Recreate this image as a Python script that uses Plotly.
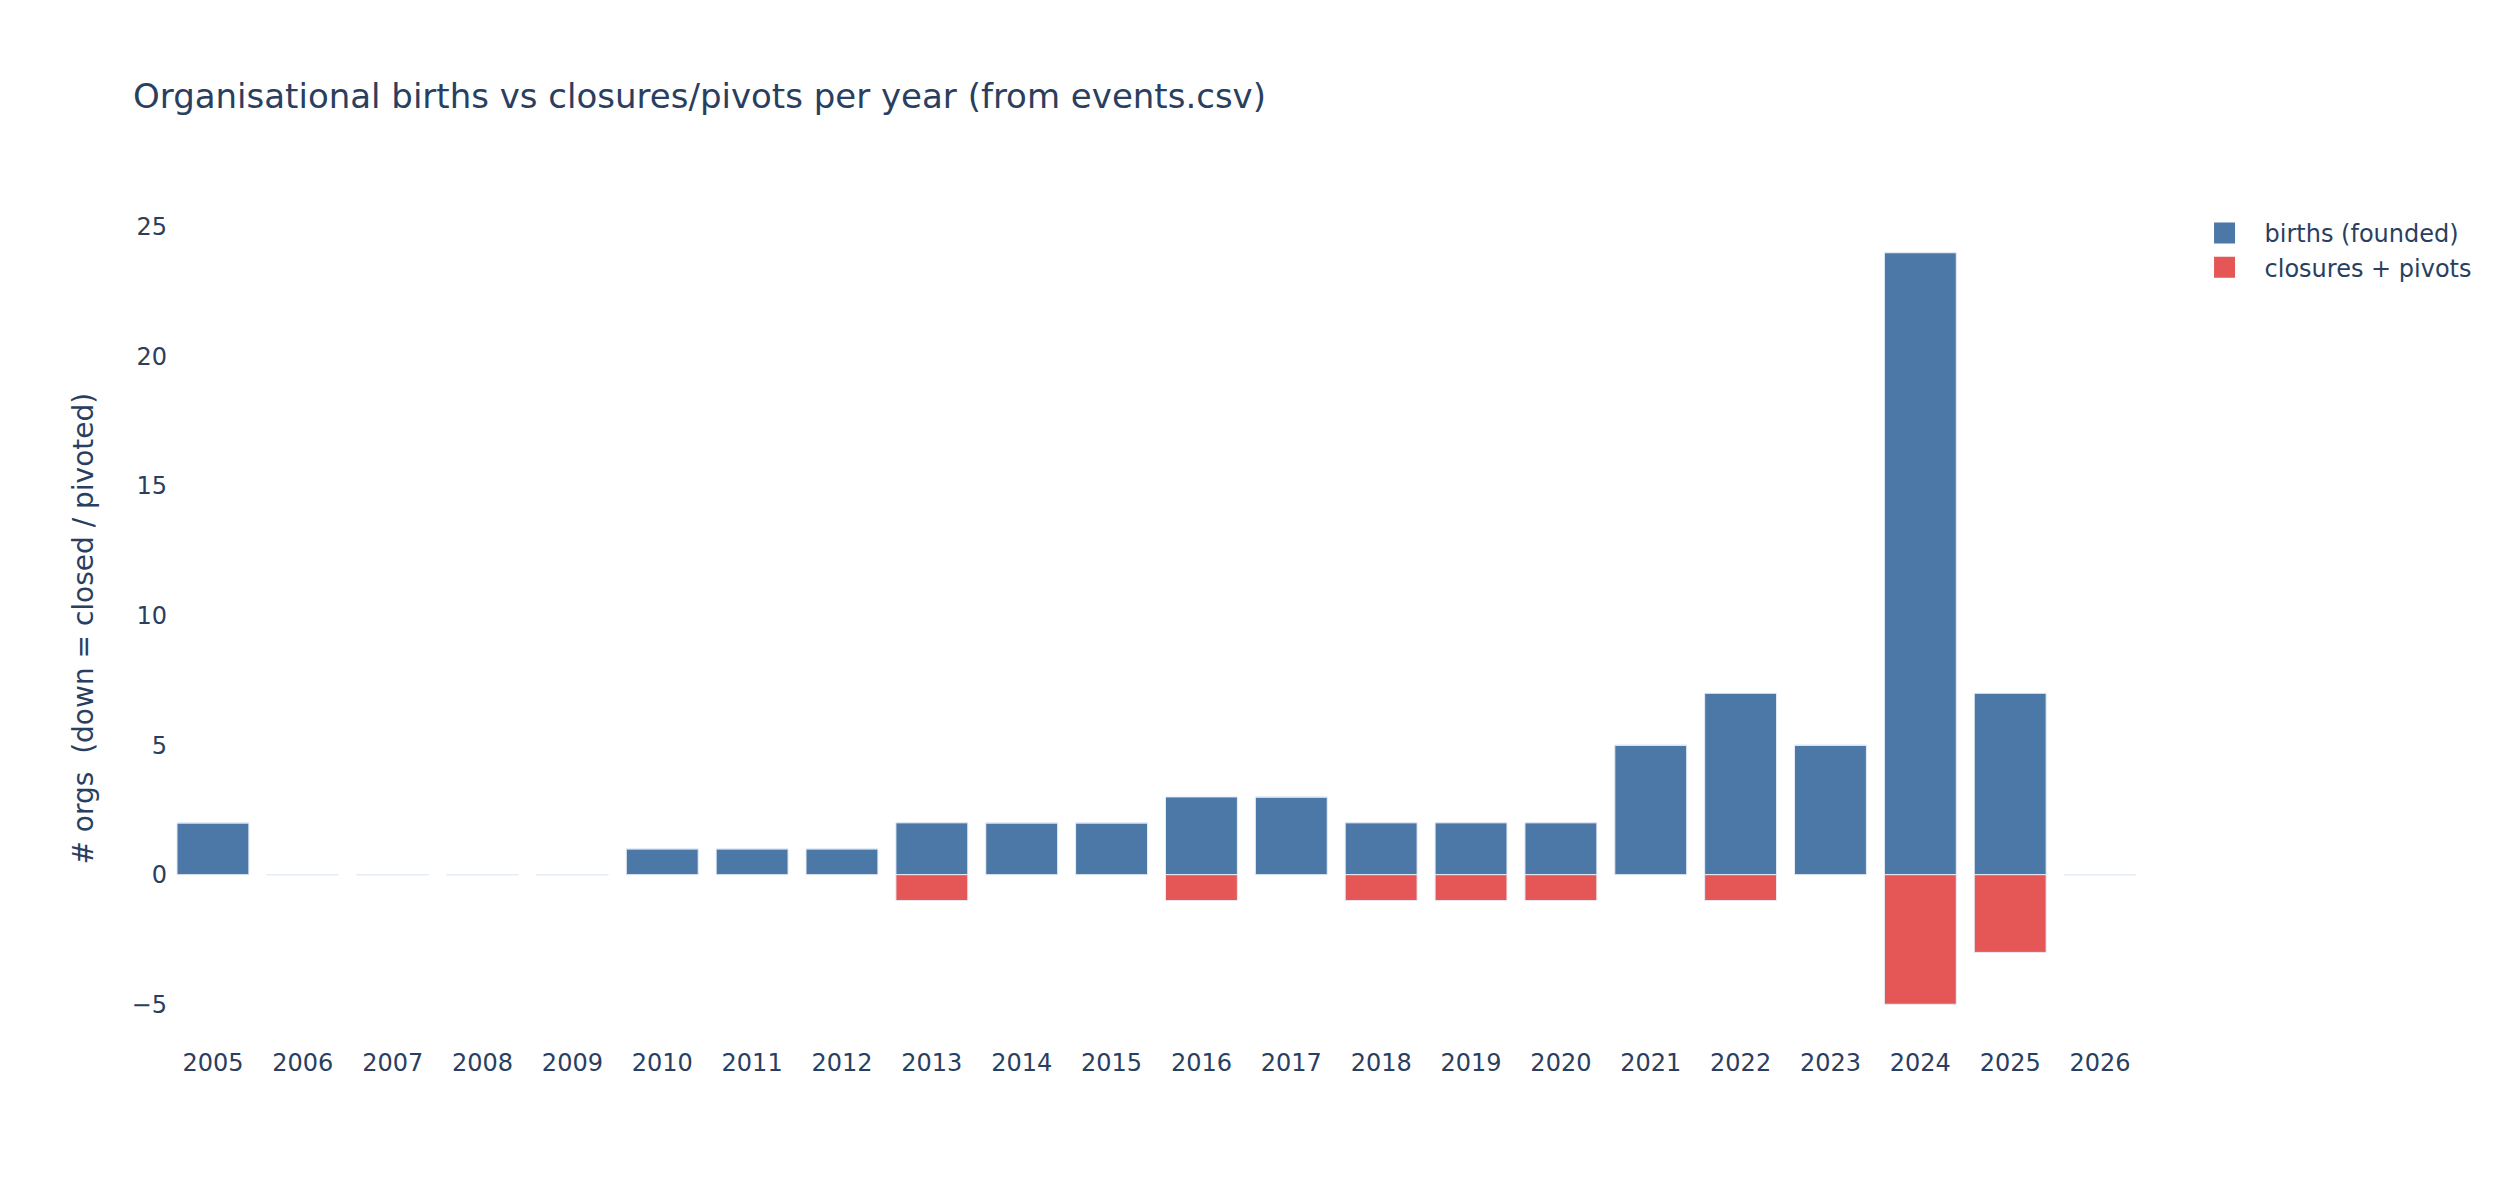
import plotly.graph_objects as go

years = [2005, 2006, 2007, 2008, 2009, 2010, 2011, 2012, 2013, 2014, 2015,
         2016, 2017, 2018, 2019, 2020, 2021, 2022, 2023, 2024, 2025, 2026]
births = [2, 0, 0, 0, 0, 1, 1, 1, 2, 2, 2, 3, 3, 2, 2, 2, 5, 7, 5, 24, 7, 0]
closures = [0, 0, 0, 0, 0, 0, 0, 0, 1, 0, 0, 1, 0, 1, 1, 1, 0, 1, 0, 5, 3, 0]

series = [
    ("births (founded)", births, "#4C78A8"),
    ("closures + pivots", [-c for c in closures], "#E45756"),
]

fig = go.Figure()
for name, vals, color in series:
    fig.add_trace(go.Bar(
        x=years, y=vals, name=name, showlegend=False,
        marker=dict(color=color, line=dict(color="#E5ECF6", width=1)),
    ))
# legend entries with bigger swatches
for name, vals, color in series:
    fig.add_trace(go.Scatter(
        x=[None], y=[None], mode="markers", name=name,
        marker=dict(symbol="square", size=16, color=color,
                    line=dict(color=color, width=5)),
    ))

font_family = "Verdana, DejaVu Sans, sans-serif"
fig.update_layout(
    width=2500, height=1200,
    barmode="relative",
    bargap=0.2,
    template="plotly",
    plot_bgcolor="white",
    paper_bgcolor="white",
    font=dict(family=font_family, size=24, color="#2a3f5f"),
    title=dict(text="Organisational births vs closures/pivots per year (from events.csv)",
               font=dict(size=34), x=0.05, y=0.927, yanchor="middle"),
    margin=dict(l=160, r=363, t=203, b=162),
    legend=dict(font=dict(size=24), itemwidth=70),
    annotations=[dict(
        text="# orgs  (down = closed / pivoted)", textangle=-90,
        xref="paper", yref="paper", x=-85 / 1977, y=0.5,
        xanchor="center", yanchor="middle", showarrow=False,
        font=dict(size=28),
    )],
)
fig.update_xaxes(tickmode="array", tickvals=years, ticktext=[str(y) for y in years],
                 showgrid=False, zeroline=False)
fig.update_yaxes(showgrid=False, zeroline=False, tickfont=dict(size=24))

fig.write_html("out.html")
